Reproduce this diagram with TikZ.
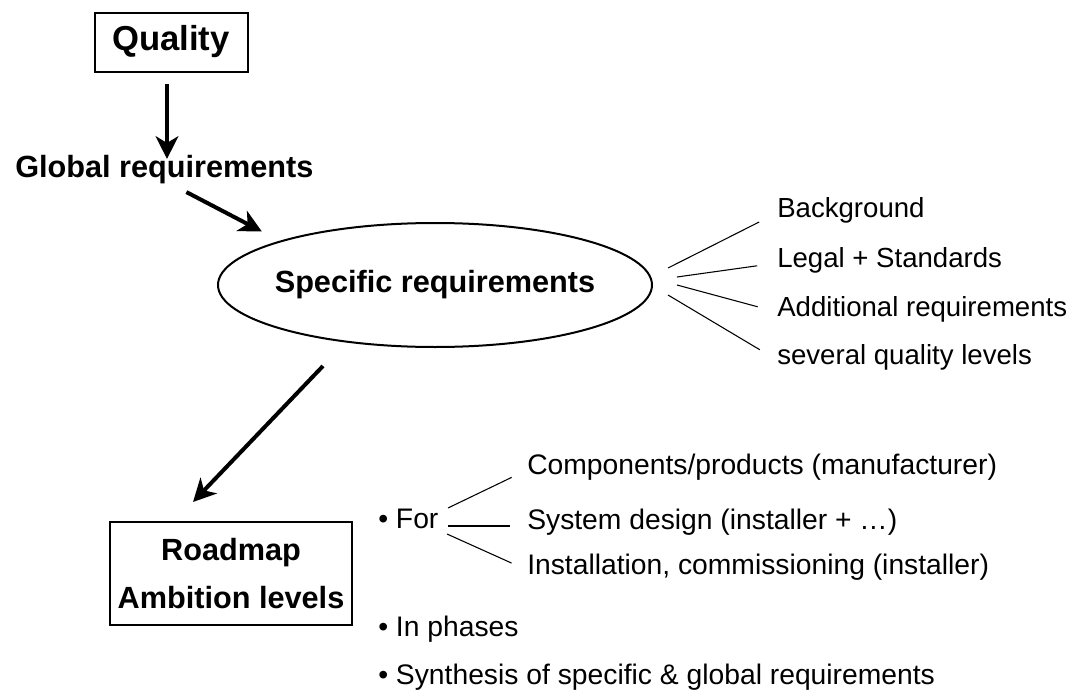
\documentclass[tikz,border=0pt]{standalone}
\usepackage{fontspec}
\setmainfont{Liberation Sans}
\usetikzlibrary{arrows,arrows.meta,shapes.geometric,positioning}

\begin{document}
\begin{tikzpicture}[x=0.75pt,y=-0.75pt,>={Stealth[length=17pt,width=17pt,inset=5pt]},
  box node/.style={draw,line width=1.5pt,inner sep=0pt,align=center,
    font=\bfseries\fontsize{23}{36}\selectfont},
  head node/.style={anchor=west,inner sep=0pt,text height=0.72em,text depth=0pt,
    font=\bfseries\fontsize{23}{28}\selectfont},
  item node/.style={anchor=west,inner sep=0pt,text height=0.72em,text depth=0pt,
    font=\fontsize{20.7}{24}\selectfont},
  low node/.style={item node,font=\fontsize{21.2}{24}\selectfont},
  big arrow/.style={->,line width=3pt},
  thin line/.style={line width=0.8pt}]
  \useasboundingbox (0,0) rectangle (1072,696);

  % upper part
  \node[box node,minimum width=114.75pt,minimum height=44.25pt,
    font=\bfseries\fontsize{26}{30}\selectfont] (quality) at (171,42) {Quality};
  \node[head node] (global) at (15,173) {Global requirements};
  \node[ellipse,draw,line width=1.5pt,inner xsep=-5.7pt,inner ysep=0pt,
    minimum width=325.5pt,minimum height=93pt,
    font=\bfseries\fontsize{23}{28}\selectfont] (spec) at (435,285)
    {Specific requirements};

  \draw[big arrow,shorten <=8.25pt,shorten >=6.75pt] ([xshift=-3pt]quality.south)
    -- ([xshift=-3pt]quality.south |- global.north);
  \draw[big arrow] ([xshift=16.5pt,yshift=-10.5pt]global.south)
    -- ([xshift=-14.25pt,yshift=6.75pt]spec.north west);

  % items of the specific requirements
  \node[item node] (bg) at (777,213) {Background};
  \node[item node] (legal) at (777,263) {Legal + Standards};
  \node[item node] (add) at (777,312) {Additional requirements};
  \node[item node] (levels) at (777,360) {several quality levels};

  \coordinate (s1) at (668,268);
  \coordinate (s2) at (677,277);
  \coordinate (s3) at (677,285);
  \coordinate (s4) at (668,295);
  \draw[thin line,shorten >=15pt] (s1) -- (bg.west);
  \draw[thin line,shorten >=15pt] (s2) -- (legal.west);
  \draw[thin line,shorten >=15pt] (s3) -- (add.west);
  \draw[thin line,shorten >=15pt] (s4) -- (levels.west);

  % lower part
  \node[box node,minimum width=181.5pt,minimum height=77.25pt] (roadmap) at (231,573.5)
    {Roadmap\\Ambition levels};
  \draw[big arrow] ([xshift=-84pt,yshift=-13.5pt]spec.south)
    -- ([xshift=-28.5pt,yshift=14.25pt]roadmap.north);

  \node[low node] (for) at (378,524) {\textbullet\ For};
  \node[low node] (comp) at (527,470) {Components/products (manufacturer)};
  \node[low node] (design) at (527,525) {System design (installer + \dots)};
  \node[low node] (install) at (527,570) {Installation, commissioning (installer)};

  \coordinate (f1) at (448,508);
  \coordinate (f2) at (448,526);
  \coordinate (f3) at (447,534);
  \draw[thin line,shorten >=12.75pt] (f1) -- (comp.west);
  \draw[thin line,shorten >=12.75pt] (f2) -- (f2 -| design.west);
  \draw[thin line,shorten >=12.75pt] (f3) -- (install.west);

  \node[low node] (phases) at (378,632) {\textbullet\ In phases};
  \node[low node] (synth) at (378,680)
    {\textbullet\ Synthesis of specific \& global requirements};
\end{tikzpicture}
\end{document}
